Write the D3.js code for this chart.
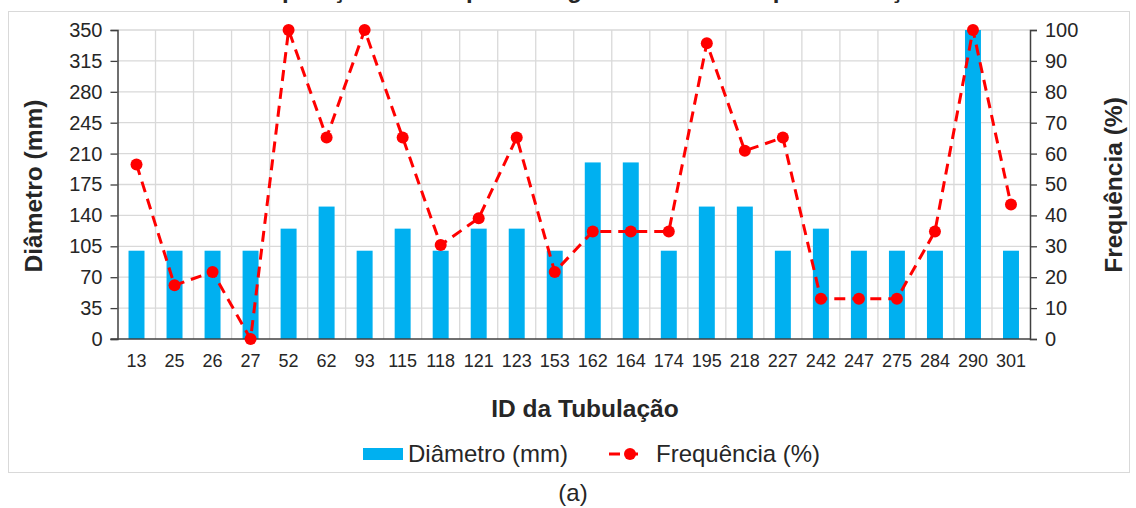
<!DOCTYPE html>
<html>
<head>
<meta charset="utf-8">
<script src="https://cdn.jsdelivr.net/npm/d3@7"></script>
<style>
  body { margin: 0; background: #fff; }
  text { font-family: "Liberation Sans", Arial, sans-serif; fill: #262626; }
</style>
</head>
<body>
<script>
const ids = ["13","25","26","27","52","62","93","115","118","121","123","153","162","164","174","195","218","227","242","247","275","284","290","301"];
const diametro = [100,100,100,100,125,150,100,125,100,125,125,100,200,200,100,150,150,100,125,100,100,100,350,100];
const frequencia = [56.5,17.4,21.7,0,100,65.2,100,65.2,30.4,39.1,65.2,21.7,34.8,34.8,34.8,95.7,60.9,65.2,13.0,13.0,13.0,34.8,100,43.5];
const leftTicks = [0,35,70,105,140,175,210,245,280,315,350];
const rightTicks = [0,10,20,30,40,50,60,70,80,90,100];

const width = 1136, height = 508;
const plotL = 117.5, plotR = 1030, plotT = 30, plotB = 339;

const svg = d3.select("body").append("svg")
    .attr("width", width)
    .attr("height", height);

// chart area frame
svg.append("rect")
    .attr("x", 8.5).attr("y", 11.5)
    .attr("width", 1121).attr("height", 461)
    .attr("fill", "none").attr("stroke", "#d9d9d9");

// title, mostly cut off above the picture
svg.append("text")
    .attr("x", 580).attr("y", -2)
    .attr("text-anchor", "middle")
    .style("font-size", "24px").style("font-weight", "bold")
    .text("Comparação entre a porcentagem e o diâmetro por tubulação");

const x = d3.scaleBand().domain(ids).range([plotL, plotR]).paddingInner(0.58).paddingOuter(0.29);
const xb = d3.scaleBand().domain(ids).range([plotL, plotR]);
const yL = d3.scaleLinear().domain([0, 350]).range([plotB, plotT]);
const yR = d3.scaleLinear().domain([0, 100]).range([plotB, plotT]);

// grid
svg.append("g").selectAll("line.h")
    .data(leftTicks.slice(1))
    .enter().append("line")
    .attr("x1", plotL).attr("x2", plotR)
    .attr("y1", d => yL(d)).attr("y2", d => yL(d))
    .attr("stroke", "#d9d9d9").attr("stroke-width", 1.3);

svg.append("g").selectAll("line.v")
    .data(ids.slice(1))
    .enter().append("line")
    .attr("x1", d => xb(d)).attr("x2", d => xb(d))
    .attr("y1", plotT).attr("y2", plotB)
    .attr("stroke", "#d9d9d9").attr("stroke-width", 1.3);

// bars
svg.append("g").selectAll("rect")
    .data(diametro)
    .enter().append("rect")
    .attr("x", (d, i) => x(ids[i]))
    .attr("width", x.bandwidth())
    .attr("y", d => yL(d))
    .attr("height", d => plotB - yL(d))
    .attr("fill", "#00b0f0");

// axes
const axL = svg.append("g")
    .attr("transform", `translate(${plotL},0)`)
    .call(d3.axisLeft(yL).tickValues(leftTicks).tickSize(7).tickPadding(8));
const axR = svg.append("g")
    .attr("transform", `translate(${plotR},0)`)
    .call(d3.axisRight(yR).tickValues(rightTicks).tickSize(7).tickPadding(8));
const axB = svg.append("g")
    .attr("transform", `translate(0,${plotB})`)
    .call(d3.axisBottom(xb).tickSize(0).tickPadding(15));

[axL, axR, axB].forEach(g => {
    g.select(".domain").attr("stroke", "#404040").attr("stroke-width", 1.5);
    g.selectAll(".tick line").attr("stroke", "#404040").attr("stroke-width", 1.3);
    g.selectAll("text").attr("fill", "#262626")
        .style("font-family", '"Liberation Sans", Arial, sans-serif');
});
axL.selectAll("text").style("font-size", "20px");
axR.selectAll("text").style("font-size", "20px");
axB.selectAll("text").style("font-size", "18px");
axB.select(".domain").attr("d", `M${plotL - 7},0H${plotR}`);

// frequency line
const line = d3.line()
    .x((d, i) => xb(ids[i]) + xb.bandwidth() / 2)
    .y(d => yR(d));

svg.append("path")
    .datum(frequencia)
    .attr("d", line)
    .attr("fill", "none")
    .attr("stroke", "#ff0000")
    .attr("stroke-width", 3)
    .attr("stroke-dasharray", "11,7");

svg.append("g").selectAll("circle")
    .data(frequencia)
    .enter().append("circle")
    .attr("cx", (d, i) => xb(ids[i]) + xb.bandwidth() / 2)
    .attr("cy", d => yR(d))
    .attr("r", 6)
    .attr("fill", "#ff0000");

// axis titles
svg.append("text")
    .attr("transform", "translate(42,186) rotate(-90)")
    .attr("text-anchor", "middle")
    .style("font-size", "24.5px").style("font-weight", "bold")
    .text("Diâmetro (mm)");

svg.append("text")
    .attr("transform", "translate(1122,185) rotate(-90)")
    .attr("text-anchor", "middle")
    .style("font-size", "24.5px").style("font-weight", "bold")
    .text("Frequência (%)");

svg.append("text")
    .attr("x", 585).attr("y", 417)
    .attr("text-anchor", "middle")
    .style("font-size", "24.5px").style("font-weight", "bold")
    .text("ID da Tubulação");

// legend
const lg = svg.append("g");
lg.append("rect")
    .attr("x", 363).attr("y", 448)
    .attr("width", 40).attr("height", 12)
    .attr("fill", "#00b0f0");
lg.append("text")
    .attr("x", 408).attr("y", 462)
    .style("font-size", "24px")
    .text("Diâmetro (mm)");
lg.append("line")
    .attr("x1", 609).attr("x2", 642)
    .attr("y1", 454).attr("y2", 454)
    .attr("stroke", "#ff0000").attr("stroke-width", 3)
    .attr("stroke-dasharray", "11,7");
lg.append("circle")
    .attr("cx", 630).attr("cy", 454).attr("r", 6)
    .attr("fill", "#ff0000");
lg.append("text")
    .attr("x", 656).attr("y", 462)
    .style("font-size", "24px")
    .text("Frequência (%)");

// caption
svg.append("text")
    .attr("x", 573).attr("y", 501)
    .attr("text-anchor", "middle")
    .style("font-size", "24px")
    .text("(a)");
</script>
</body>
</html>
